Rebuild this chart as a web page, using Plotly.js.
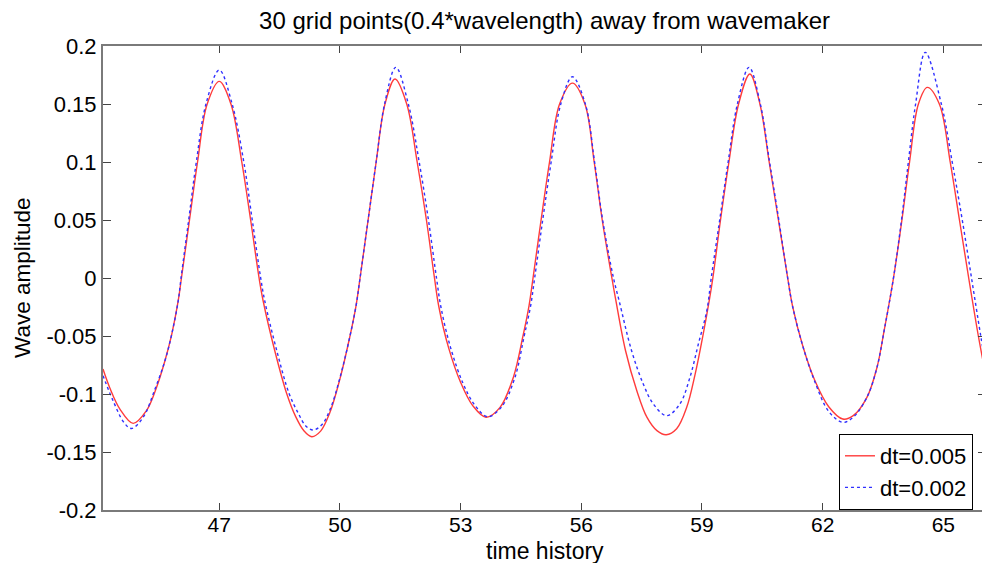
<!DOCTYPE html>
<html>
<head>
<meta charset="utf-8">
<script src="https://cdn.plot.ly/plotly-3.0.1.min.js"></script>
<style>
  html, body { margin: 0; padding: 0; background: #fff; overflow: hidden; }
  #chart { width: 986px; height: 563px; }
</style>
</head>
<body>
<div id="chart"></div>
<script>
// ---- data ----
const seriesNames = ["dt=0.005", "dt=0.002"];

const tRed = [44.11, 44.28, 44.53, 44.86, 45.19, 45.44, 45.65, 45.82, 45.98, 46.06,
  46.26, 46.46, 46.70, 47.00, 47.29, 47.56, 47.78, 47.99, 48.09, 48.38,
  48.68, 48.90, 49.10, 49.30, 49.52, 49.75, 50.00, 50.25, 50.40, 50.50,
  50.70, 50.90, 51.12, 51.37, 51.66, 51.92, 52.15, 52.35, 52.46, 52.70,
  53.00, 53.30, 53.63, 53.98, 54.31, 54.55, 54.70, 54.80, 55.00, 55.21,
  55.46, 55.78, 56.09, 56.32, 56.52, 56.76, 56.86, 57.10, 57.38, 57.63,
  57.88, 58.11, 58.37, 58.62, 58.83, 59.03, 59.18, 59.27, 59.46, 59.67,
  59.91, 60.19, 60.44, 60.67, 60.90, 61.13, 61.25, 61.50, 61.80, 62.15,
  62.50, 62.76, 63.10, 63.35, 63.53, 63.76, 63.97, 64.16, 64.38, 64.60,
  64.90, 65.17, 65.40, 65.63, 65.87, 66.06];
const ampRed = [-0.0785, -0.0948, -0.1130, -0.1253, -0.1144, -0.0943, -0.0713, -0.0483, -0.0196, 0.000,
  0.050, 0.100, 0.150, 0.1695, 0.150, 0.100, 0.050, 0.000, -0.0196, -0.0627,
  -0.100, -0.1195, -0.1315, -0.1368, -0.1320, -0.1160, -0.0870, -0.050, -0.024, 0.000,
  0.050, 0.100, 0.150, 0.1715, 0.150, 0.100, 0.050, 0.000, -0.025, -0.060,
  -0.090, -0.110, -0.1200, -0.1115, -0.0857, -0.050, -0.024, 0.000, 0.050, 0.100,
  0.150, 0.1680, 0.150, 0.100, 0.050, 0.000, -0.0196, -0.0627, -0.0972, -0.1200,
  -0.1316, -0.1351, -0.1300, -0.1115, -0.0828, -0.0483, -0.0196, 0.000, 0.050, 0.100,
  0.150, 0.1759, 0.150, 0.100, 0.050, 0.000, -0.024, -0.058, -0.088, -0.111,
  -0.1216, -0.1187, -0.1029, -0.0771, -0.045, 0.000, 0.050, 0.100, 0.150, 0.1643,
  0.150, 0.100, 0.050, 0.000, -0.050, -0.085];

const tBlue = [44.11, 44.36, 44.64, 44.82, 45.11, 45.40, 45.65, 45.82, 45.98, 46.05,
  46.24, 46.43, 46.67, 47.00, 47.32, 47.61, 47.82, 48.03, 48.13, 48.43,
  48.74, 48.97, 49.15, 49.33, 49.55, 49.77, 50.00, 50.25, 50.40, 50.50,
  50.70, 50.90, 51.11, 51.39, 51.70, 51.97, 52.20, 52.40, 52.51, 52.75,
  53.05, 53.34, 53.67, 54.02, 54.35, 54.58, 54.74, 54.84, 55.04, 55.25,
  55.49, 55.78, 56.10, 56.33, 56.53, 56.80, 56.94, 57.25, 57.54, 57.79,
  58.12, 58.45, 58.70, 58.91, 59.12, 59.23, 59.44, 59.65, 59.88, 60.17,
  60.45, 60.68, 60.91, 61.13, 61.25, 61.50, 61.80, 62.15, 62.50, 62.76,
  63.10, 63.35, 63.53, 63.76, 63.96, 64.13, 64.31, 64.55, 64.95, 65.22,
  65.47, 65.70, 65.93, 66.06];
const ampBlue = [-0.0842, -0.1058, -0.125, -0.1297, -0.1200, -0.0960, -0.0713, -0.0483, -0.0196, 0.000,
  0.050, 0.100, 0.150, 0.1793, 0.150, 0.100, 0.050, 0.000, -0.0196, -0.0627,
  -0.100, -0.1170, -0.1275, -0.1310, -0.1265, -0.1120, -0.0860, -0.050, -0.024, 0.000,
  0.050, 0.100, 0.150, 0.1816, 0.150, 0.100, 0.050, 0.000, -0.025, -0.060,
  -0.090, -0.109, -0.1196, -0.1110, -0.0857, -0.050, -0.024, 0.000, 0.050, 0.100,
  0.150, 0.1735, 0.150, 0.100, 0.050, 0.000, -0.0196, -0.0627, -0.0914, -0.1086,
  -0.1187, -0.1086, -0.0857, -0.0569, -0.0282, 0.000, 0.050, 0.100, 0.150, 0.1816,
  0.150, 0.100, 0.050, 0.000, -0.024, -0.058, -0.089, -0.115, -0.1245, -0.120,
  -0.1029, -0.0771, -0.045, 0.000, 0.050, 0.100, 0.150, 0.1945, 0.150, 0.100,
  0.050, 0.000, -0.050, -0.076];

const xTickVals = [47, 50, 53, 56, 59, 62, 65];
const xTickText = ["47", "50", "53", "56", "59", "62", "65"];
const yTickVals = [0.2, 0.15, 0.1, 0.05, 0, -0.05, -0.1, -0.15, -0.2];
const yTickText = ["0.2", "0.15", "0.1", "0.05", "0", "-0.05", "-0.1", "-0.15", "-0.2"];

const chartTitle = "30 grid points(0.4*wavelength) away from wavemaker";
const xTitle = "time history";
const yTitle = "Wave amplitude";

// ---- drawing ----
const FONT = "Liberation Sans, Arial, Helvetica, sans-serif";

const traces = [
  { x: tRed, y: ampRed, name: seriesNames[0], type: "scatter", mode: "lines",
    line: { color: "#ff3b3b", width: 1.4, shape: "spline", smoothing: 1 } },
  { x: tBlue, y: ampBlue, name: seriesNames[1], type: "scatter", mode: "lines",
    line: { color: "#3030ff", width: 1.4, dash: "dot", shape: "spline", smoothing: 1 } }
];

const layout = {
  width: 986, height: 563,
  margin: { l: 103, r: 0, t: 46, b: 53, pad: 0 },
  paper_bgcolor: "#ffffff", plot_bgcolor: "#ffffff",
  font: { family: FONT, size: 22, color: "#000" },
  title: { text: chartTitle, font: { family: FONT, size: 24, color: "#000" },
           x: 0.5, xref: "paper", xanchor: "center", y: 1 - 21 / 563, yref: "container", yanchor: "middle" },
  showlegend: true,
  legend: { x: 0.8335, xanchor: "left", y: 0, yanchor: "bottom",
            bgcolor: "#ffffff", bordercolor: "#000000", borderwidth: 1,
            font: { family: FONT, size: 22, color: "#000" }, tracegroupgap: 0 },
  annotations: [
    { text: xTitle, xref: "paper", yref: "paper", x: 0.5, y: (510 - 551) / 464,
      xanchor: "center", yanchor: "middle", showarrow: false,
      font: { family: FONT, size: 23, color: "#000" } },
    { text: yTitle, xref: "paper", yref: "paper", x: (22 - 103) / 883, y: (510 - 278) / 464,
      xanchor: "center", yanchor: "middle", textangle: -90, showarrow: false,
      font: { family: FONT, size: 22.5, color: "#000" } }
  ],
  xaxis: {
    range: [44.11, 66.06], tickmode: "array", tickvals: xTickVals, ticktext: xTickText,
    ticks: "inside", ticklen: 7, tickwidth: 1, tickcolor: "#444",
    showline: true, linecolor: "#7a7a7a", linewidth: 2, mirror: "ticks",
    showgrid: false, zeroline: false, ticklabelstandoff: -5,
    tickfont: { family: FONT, size: 21, color: "#000" }
  },
  yaxis: {
    range: [-0.2, 0.2], tickmode: "array", tickvals: yTickVals, ticktext: yTickText,
    ticks: "inside", ticklen: 8, tickwidth: 1, tickcolor: "#444",
    showline: true, linecolor: "#7a7a7a", linewidth: 2, mirror: "ticks",
    showgrid: false, zeroline: false,
    tickfont: { family: FONT, size: 22, color: "#000" }
  }
};

Plotly.newPlot("chart", traces, layout, { displayModeBar: false, staticPlot: true });
</script>
</body>
</html>
